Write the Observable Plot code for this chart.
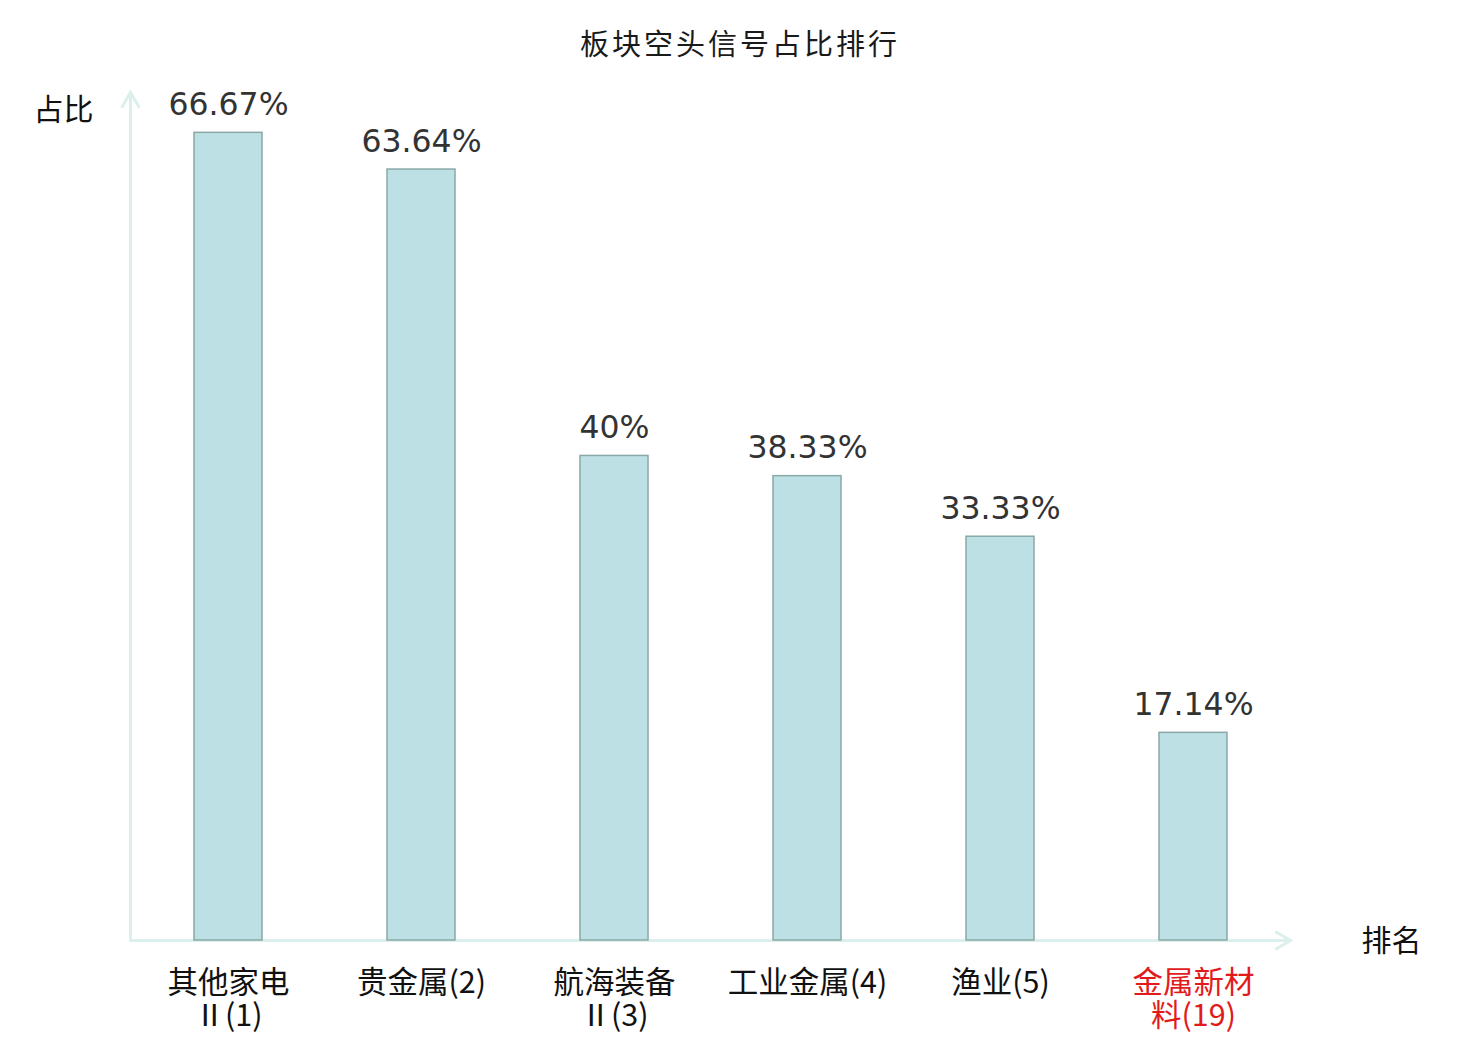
<!DOCTYPE html>
<html>
<head>
<meta charset="utf-8">
<script src="https://cdn.jsdelivr.net/npm/d3@7"></script>
<script src="https://cdn.jsdelivr.net/npm/@observablehq/plot@0.6"></script>
<style>
  html, body { margin: 0; padding: 0; background: #fff; }
  #title { width: 1480px; height: 70px; line-height: 84px; text-align: center;
           font-family: "Noto Sans CJK SC", sans-serif; font-size: 29px; color: #1a1a1a; letter-spacing: 3px; }
  #chart svg { display: block; }
</style>
</head>
<body>
<div id="title">板块空头信号占比排行</div>
<div id="chart"></div>
<script>
const categories = ["其他家电\nⅡ(1)", "贵金属(2)", "航海装备\nⅡ(3)", "工业金属(4)", "渔业(5)", "金属新材\n料(19)"];
const values = [66.67, 63.64, 40, 38.33, 33.33, 17.14];
const labelColors = ["#111", "#111", "#111", "#111", "#111", "#e31a1c"];
const yDomain = [0, 70];

const data = categories.map((c, i) => ({cat: c, value: values[i], label: `${values[i]}%`, color: labelColors[i]}));

const axisColor = "#dbf0ed";
const chevron = {
  draw(context) {
    const r = 9;
    context.moveTo(-r * 1.7, -r);
    context.lineTo(0, 0);
    context.lineTo(-r * 1.7, r);
  }
};

const chart = Plot.plot({
  width: 1480,
  height: 970,
  marginLeft: 130,
  marginRight: 190,
  marginTop: 22,
  marginBottom: 100,
  style: {fontFamily: "Noto Sans CJK SC, sans-serif", background: "#fff"},
  x: {domain: categories, paddingInner: 0.648, paddingOuter: 0.324, axis: null},
  y: {domain: yDomain, axis: null},
  marks: [
    Plot.frame({anchor: "left", stroke: axisColor, strokeWidth: 3}),
    Plot.ruleY([0], {stroke: axisColor, strokeWidth: 3}),
    Plot.dot([0], {y: d => d, frameAnchor: "right", symbol: chevron, fill: "none", stroke: axisColor, strokeWidth: 3}),
    Plot.dot([yDomain[1]], {y: d => d, frameAnchor: "left", rotate: -90, symbol: chevron, fill: "none", stroke: axisColor, strokeWidth: 3}),
    Plot.barY(data, {x: "cat", y: "value", fill: "#bce0e3", stroke: "#8ba8a8", strokeWidth: 1.5}),
    Plot.text(data, {x: "cat", y: "value", text: "label", dy: -28, fontSize: 31.5, fill: "#333", fontFamily: "DejaVu Sans, sans-serif"}),
    Plot.text(data, {x: "cat", y: 0, text: "cat", fill: "color", lineAnchor: "top", dy: 29, fontSize: 30.5, lineHeight: 1.08}),
    Plot.text(["占比"], {frameAnchor: "top-left", textAnchor: "middle", lineAnchor: "middle", dx: -67, dy: 18, fontSize: 30, fill: "#111"}),
    Plot.text(["排名"], {frameAnchor: "bottom-right", textAnchor: "middle", lineAnchor: "middle", dx: 101, dy: 1, fontSize: 30, fill: "#111"})
  ]
});
document.getElementById("chart").appendChild(chart);
</script>
</body>
</html>
